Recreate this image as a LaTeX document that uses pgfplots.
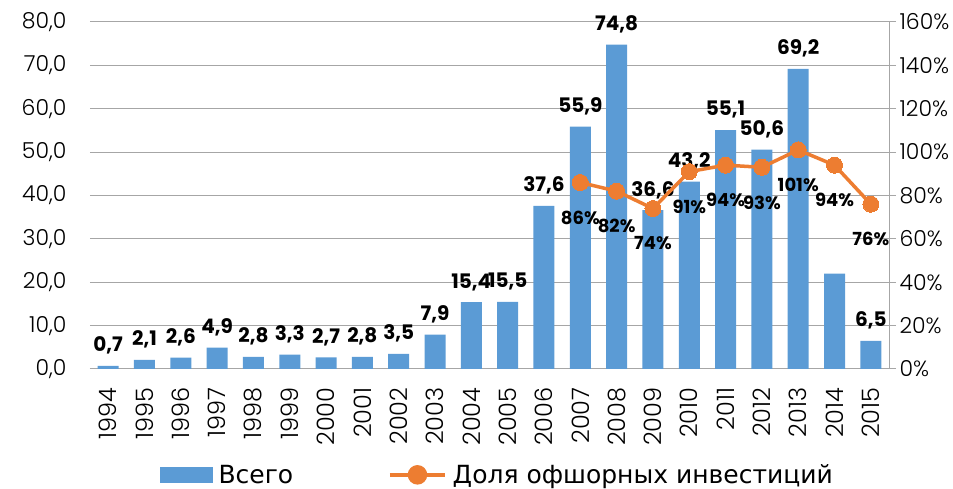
\documentclass[border=0pt]{standalone}
\usepackage{pgfplots}
\pgfplotsset{compat=1.18}
\usepackage{fontspec}
\setmainfont{Poppins}[UprightFont=* Light, BoldFont=* Bold]
\newfontfamily\cyr{DejaVu Sans}

\definecolor{barblue}{HTML}{5B9BD5}
\definecolor{lineorange}{HTML}{ED7D31}
\definecolor{gridgray}{HTML}{A6A6A6}

\pgfplotsset{
  base/.style={
    scale only axis, width=799pt, height=347pt,
    xmin=-0.5, xmax=21.5,
    /pgf/number format/assume math mode=true,
    tick label style={font=\fontsize{22}{22}\selectfont},
  }
}

\begin{document}
\begin{tikzpicture}
\begin{axis}[base,
    ymin=0, ymax=80, ytick={0,10,...,80},
    ymajorgrids, grid style={gridgray, line width=1pt},
    axis x line*=bottom, axis y line*=left,
    x axis line style={gridgray, line width=1pt},
    y axis line style={draw=none},
    y tick style={draw=none}, x tick style={draw=none},
    yticklabel style={xshift=-20pt, /pgf/number format/fixed, /pgf/number format/fixed zerofill,
      /pgf/number format/precision=1, /pgf/number format/use comma},
    xtick={0,...,21},
    xticklabels={1994,1995,1996,1997,1998,1999,2000,2001,2002,2003,2004,2005,2006,2007,2008,2009,2010,2011,2012,2013,2014,2015},
    xticklabel style={rotate=90, anchor=east, xshift=-15pt, font=\fontsize{24}{24}\selectfont},
  ]
  \coordinate (bl) at (rel axis cs:0,0);
  \coordinate (tr) at (rel axis cs:1,1);
  % bars
  \addplot[ybar, bar width=21pt, fill=barblue, draw=none] coordinates {
    (0,0.7) (1,2.1) (2,2.6) (3,4.9) (4,2.8) (5,3.3) (6,2.7) (7,2.8) (8,3.5) (9,7.9) (10,15.4)
    (11,15.5) (12,37.6) (13,55.9) (14,74.8) (15,36.6) (16,43.2) (17,55.1) (18,50.6) (19,69.2)
    (20,22.0) (21,6.5)};
  % value labels (2014 has none)
  \addplot[draw=none, mark=none, nodes near coords={\pgfmathprintnumber[fixed,fixed zerofill,precision=1,use comma]{\pgfplotspointmeta}},
    every node near coord/.append style={font=\bfseries\fontsize{20}{20}\selectfont, yshift=8pt}]
    coordinates {
    (0,0.7) (1,2.1) (2,2.6) (3,4.9) (4,2.8) (5,3.3) (6,2.7) (7,2.8) (8,3.5) (9,7.9) (10,15.4)
    (11,15.5) (12,37.6) (13,55.9) (14,74.8) (15,36.6) (16,43.2) (17,55.1) (18,50.6) (19,69.2)
    (21,6.5)};
\end{axis}
\begin{axis}[base,
    ymin=0, ymax=160, ytick={0,20,...,160},
    axis y line*=right, axis x line=none,
    y axis line style={gridgray, line width=1pt},
    y tick style={gridgray, line width=1pt}, ytick align=outside, major tick length=7pt,
    yticklabel={\pgfmathprintnumber{\tick}\%},
    legend style={at={(0.51,-0.305)}, anchor=center, draw=none, legend columns=2,
      font=\cyr\fontsize{25}{25}\selectfont,
      /tikz/every odd column/.append style={column sep=4pt},
      /tikz/every even column/.append style={column sep=93pt}},
  ]
  \addlegendimage{legend image code/.code={\fill[barblue] (0pt,-7pt) rectangle (52pt,8pt);}}
  \addlegendentry{Всего}
  \addplot[lineorange, line width=3.5pt, mark=*, mark size=8pt,
    mark options={fill=lineorange, draw=lineorange, line width=0pt},
    legend image code/.code={\draw[lineorange, line width=3.5pt] (0pt,0pt) -- (55pt,0pt);
      \fill[lineorange] (27.5pt,0pt) circle (8pt);},
    nodes near coords={\pgfmathprintnumber[fixed,precision=0]{\pgfplotspointmeta}\%},
    nodes near coords align={below},
    every node near coord/.append style={font=\bfseries\fontsize{18}{18}\selectfont, yshift=-25pt, text=black}]
    coordinates {(13,86) (14,82) (15,74) (16,91) (17,94) (18,93) (19,101) (20,94) (21,76)};
  \addlegendentry{Доля офшорных инвестиций}
\end{axis}
\pgfresetboundingbox
\path[use as bounding box] ([xshift=-90pt,yshift=-120pt]bl) rectangle ([xshift=64pt,yshift=22pt]tr);
\end{tikzpicture}
\end{document}
